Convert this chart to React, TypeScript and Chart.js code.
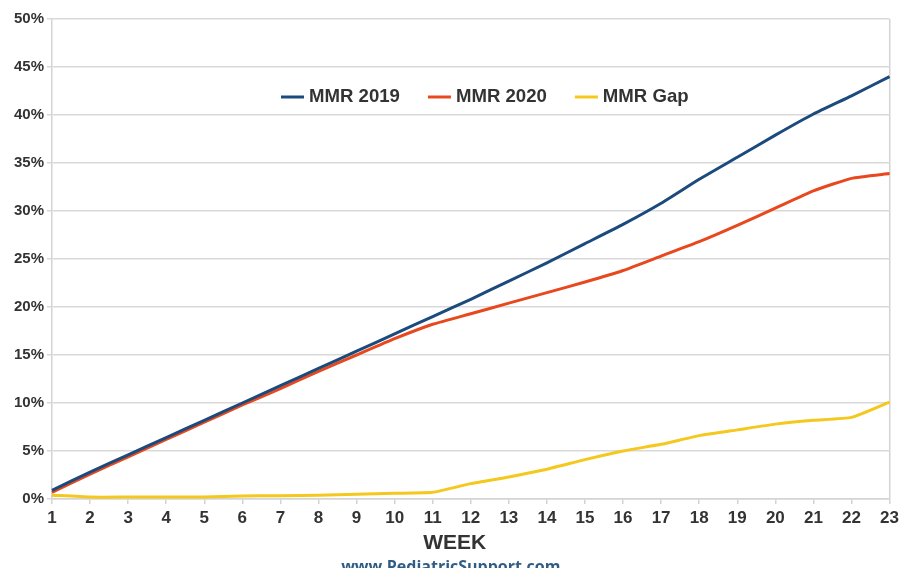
import React, { useEffect, useRef } from "react";
import { Chart, registerables } from "chart.js";

Chart.register(...registerables);

const weeks: string[] = Array.from({ length: 23 }, (_, i) => String(i + 1));
const mmr2019: number[] = [0.9, 2.8, 4.6, 6.4, 8.2, 10.0, 11.8, 13.6, 15.4, 17.2, 19.0, 20.8, 22.7, 24.6, 26.6, 28.6, 30.8, 33.3, 35.6, 37.9, 40.1, 42.0, 44.0];
const mmr2020: number[] = [0.7, 2.6, 4.4, 6.2, 8.0, 9.8, 11.5, 13.3, 15.0, 16.7, 18.2, 19.3, 20.4, 21.5, 22.6, 23.8, 25.3, 26.8, 28.5, 30.3, 32.1, 33.4, 33.9];
const mmrGap: number[] = [0.4, 0.2, 0.2, 0.2, 0.2, 0.3, 0.35, 0.4, 0.5, 0.6, 0.7, 1.6, 2.3, 3.1, 4.1, 5.0, 5.7, 6.6, 7.2, 7.8, 8.2, 8.5, 10.1];
const seriesNames: string[] = ["MMR 2019", "MMR 2020", "MMR Gap"];
const seriesColors: string[] = ["#1b4a7c", "#e8481e", "#f4c81c"];
const axisTitle = "WEEK";
const watermark = "www.PediatricSupport.com";

const FONT = "'Liberation Sans', Arial, sans-serif";

const overlayPlugin = {
  id: "overlay",
  afterDraw(chart: any) {
    const { ctx, chartArea } = chart;
    ctx.save();
    // legend inside plot
    ctx.font = `bold 18.6px ${FONT}`;
    ctx.textBaseline = "middle";
    let x = 281;
    const y = 97;
    chart.data.datasets.forEach((ds: any) => {
      ctx.strokeStyle = ds.borderColor;
      ctx.lineWidth = 3;
      ctx.beginPath();
      ctx.moveTo(x, y);
      ctx.lineTo(x + 23, y);
      ctx.stroke();
      x += 28;
      ctx.fillStyle = "#333333";
      ctx.textAlign = "left";
      ctx.fillText(ds.label, x, y);
      x += ctx.measureText(ds.label).width + 28;
    });
    // axis title
    ctx.font = `bold 21px ${FONT}`;
    ctx.textAlign = "center";
    ctx.fillStyle = "#333333";
    const cx = (chartArea.left + chartArea.right) / 2 - 16;
    ctx.fillText(axisTitle, cx, chartArea.bottom + 44);
    // watermark, clipped
    ctx.beginPath();
    ctx.rect(0, 0, chart.width, 568);
    ctx.clip();
    ctx.font = `bold 16px 'Open Sans', sans-serif`;
    ctx.fillStyle = "#2f5d86";
    ctx.textBaseline = "alphabetic";
    ctx.fillText(watermark, cx - 4, 572);
    ctx.restore();
  },
};

export default function App() {
  const ref = useRef<HTMLCanvasElement>(null);
  useEffect(() => {
    document.body.style.margin = "0";
    const chart = new Chart(ref.current!, {
      type: "line",
      data: {
        labels: weeks,
        datasets: [mmr2019, mmr2020, mmrGap].map((d, i) => ({
          label: seriesNames[i],
          data: d,
          borderColor: seriesColors[i],
          backgroundColor: seriesColors[i],
          borderWidth: 3,
          pointRadius: 0,
          tension: 0.15,
          fill: false,
        })),
      },
      options: {
        animation: false,
        responsive: false,
        layout: { padding: { top: 19, right: 13, left: 0, bottom: 0 } },
        plugins: { legend: { display: false }, tooltip: { enabled: false } },
        scales: {
          x: {
            grid: {
              color: (c: any) => (c.index === weeks.length - 1 ? "#d4d4d4" : "rgba(0,0,0,0)"),
              tickColor: "#d4d4d4",
              tickLength: 5,
              lineWidth: 1.5,
            },
            border: { color: "#d4d4d4", width: 1.5 },
            ticks: {
              font: { family: FONT, size: 17, weight: "bold" },
              color: "#333333",
              padding: 4,
              maxRotation: 0,
              autoSkip: false,
            },
            afterFit: (s: any) => {
              s.height = 74;
            },
          },
          y: {
            min: 0,
            max: 50,
            ticks: {
              stepSize: 5,
              callback: (v: any) => `${v}%`,
              font: { family: FONT, size: 15, weight: "bold" },
              color: "#333333",
              padding: 3,
            },
            grid: { color: "#d9d9d9", lineWidth: 1.5, tickLength: 5, tickColor: "#d9d9d9" },
            border: { color: "#d4d4d4", width: 1.5 },
            afterFit: (s: any) => {
              s.width = 52;
            },
          },
        },
      },
      plugins: [overlayPlugin],
    });
    return () => chart.destroy();
  }, []);
  return <canvas ref={ref} width={903} height={573} style={{ display: "block" }} />;
}
